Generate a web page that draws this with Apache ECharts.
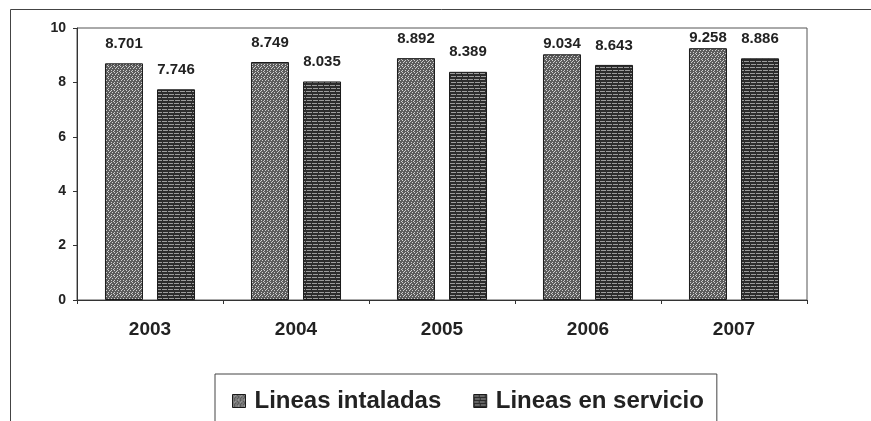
<!DOCTYPE html>
<html>
<head>
<meta charset="utf-8">
<style>
  html, body { margin: 0; padding: 0; background: #ffffff; }
  #chart { width: 871px; height: 421px; }
</style>
<script src="https://cdn.jsdelivr.net/npm/echarts@6/dist/echarts.min.js"></script>
</head>
<body>
<div id="chart"></div>
<script>
// Chart data
const years = ['2003', '2004', '2005', '2006', '2007'];
const lineasInstaladas = [8.701, 8.749, 8.892, 9.034, 9.258];
const lineasEnServicio = [7.746, 8.035, 8.389, 8.643, 8.886];
const yTicks = [0, 2, 4, 6, 8, 10];

const seriesNames = ['Lineas intaladas', 'Lineas en servicio'];

// Fill textures for the two series
function makePattern(kind) {
  const c = document.createElement('canvas');
  c.width = 6; c.height = 6;
  const ctx = c.getContext('2d');
  if (kind === 'stipple') {
    ctx.fillStyle = '#5c5c5c';
    ctx.fillRect(0, 0, 6, 6);
    ctx.fillStyle = '#cfcfcf';
    const dots = [[0,0],[3,0],[1,2],[4,2],[0,4],[3,4],[2,1],[5,5]];
    dots.forEach(([x, y]) => ctx.fillRect(x, y, 1, 1));
  } else {
    ctx.fillStyle = '#2c2c2c';
    ctx.fillRect(0, 0, 6, 6);
    ctx.fillStyle = '#9c9c9c';
    ctx.fillRect(0, 1, 5, 1);
    ctx.fillRect(1, 4, 5, 1);
  }
  return { image: c, repeat: 'repeat' };
}

const fills = [makePattern('stipple'), makePattern('lines')];
const textColor = '#222222';
const fontFamily = '"Liberation Sans", Arial, sans-serif';

function fmt(v) { return v.toFixed(3); }

function buildSeries(name, values, fill) {
  return {
    name: name,
    type: 'bar',
    barWidth: 38,
    barGap: '37%',
    data: values.map(v => ({
      value: v,
      // keep labels inside the plot frame for the tallest bars
      label: v > 9 ? { distance: 3 } : undefined
    })),
    itemStyle: { color: fill, borderColor: '#1a1a1a', borderWidth: 1 },
    label: {
      show: true,
      position: 'top',
      distance: 12,
      formatter: p => fmt(p.value),
      color: textColor,
      fontFamily: fontFamily,
      fontWeight: 'bold',
      fontSize: 15
    }
  };
}

const chart = echarts.init(document.getElementById('chart'), null, { renderer: 'canvas' });

chart.setOption({
  animation: false,
  backgroundColor: '#ffffff',
  graphic: [
    {
      type: 'polyline',
      silent: true,
      shape: { points: [[10.5, 430], [10.5, 9.5], [880, 9.5]] },
      style: { stroke: '#444444', lineWidth: 1, fill: null }
    }
  ],
  grid: {
    left: 77, top: 28, right: 64, bottom: 121,
    show: true,
    borderColor: '#555555',
    borderWidth: 1,
    backgroundColor: 'transparent'
  },
  legend: {
    left: 215,
    top: 374,
    data: seriesNames,
    icon: 'rect',
    itemWidth: 13,
    itemHeight: 13,
    itemGap: 32,
    padding: [15, 13, 40, 17],
    borderColor: '#444444',
    borderWidth: 1,
    textStyle: {
      color: textColor,
      fontFamily: fontFamily,
      fontSize: 24,
      fontWeight: 'bold',
      padding: [0, 0, 0, 4]
    },
    itemStyle: { borderColor: '#1a1a1a', borderWidth: 1 }
  },
  xAxis: {
    type: 'category',
    data: years,
    axisLine: { show: true, lineStyle: { color: '#333333', width: 1 } },
    axisTick: { show: true, alignWithLabel: false, length: 4, lineStyle: { color: '#333333' } },
    axisLabel: {
      margin: 20,
      color: textColor,
      fontFamily: fontFamily,
      fontWeight: 'bold',
      fontSize: 19
    },
    splitLine: { show: false }
  },
  yAxis: {
    type: 'value',
    min: yTicks[0],
    max: yTicks[yTicks.length - 1],
    interval: yTicks[1] - yTicks[0],
    axisLine: { show: true, lineStyle: { color: '#333333', width: 1 } },
    axisTick: { show: true, length: 4, lineStyle: { color: '#333333' } },
    axisLabel: {
      margin: 11,
      color: textColor,
      fontFamily: fontFamily,
      fontWeight: 'bold',
      fontSize: 14
    },
    splitLine: { show: false }
  },
  series: [
    buildSeries(seriesNames[0], lineasInstaladas, fills[0]),
    buildSeries(seriesNames[1], lineasEnServicio, fills[1])
  ]
});
</script>
</body>
</html>
